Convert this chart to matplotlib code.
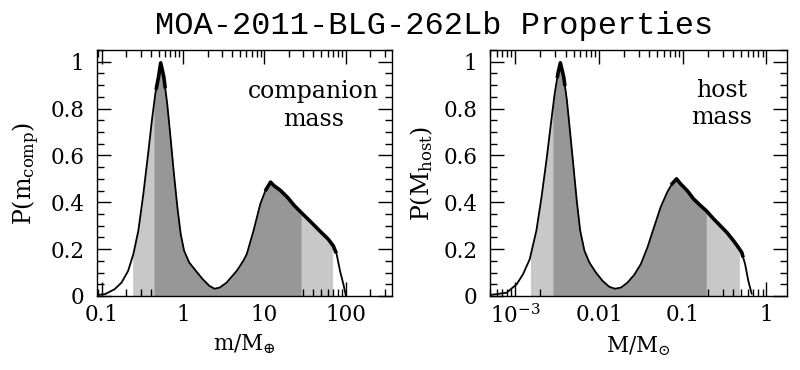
import matplotlib
matplotlib.use("Agg")
import matplotlib.pyplot as plt
import numpy as np
from matplotlib.ticker import FixedLocator, FixedFormatter, LogLocator, MultipleLocator, NullFormatter

plt.rcParams["font.family"] = ["DejaVu Serif"]
plt.rcParams["mathtext.fontset"] = "dejavuserif"

LIGHT = "#c8c8c8"; DARK = "#979797"

# companion mass (Earth masses) vs probability
m_comp = [0.087, 0.11, 0.144, 0.175, 0.211, 0.245, 0.282, 0.325, 0.376, 0.414, 0.456, 0.50, 0.531,
          0.579, 0.638, 0.70, 0.772, 0.851, 0.936, 1.03, 1.19, 1.44, 1.75, 2.11, 2.44, 2.82, 3.42,
          4.56, 5.5, 6.07, 7.35, 8.9, 10.3, 11.9, 13.1, 15.8, 19.2, 23.3, 28.2, 34.1, 41.4, 50.1,
          60.7, 70.2, 77.2, 85.0, 93.5, 100.0]
p_comp = [0.004, 0.008, 0.029, 0.057, 0.107, 0.179, 0.279, 0.436, 0.621, 0.75, 0.864, 0.936, 0.995,
          0.936, 0.821, 0.679, 0.521, 0.379, 0.264, 0.193, 0.143, 0.107, 0.071, 0.043, 0.031, 0.036,
          0.057, 0.107, 0.15, 0.179, 0.279, 0.393, 0.45, 0.486, 0.471, 0.45, 0.421, 0.386, 0.357,
          0.329, 0.30, 0.271, 0.243, 0.214, 0.179, 0.107, 0.05, 0.004]
comp_dark = (0.439, 28.2)
comp_light = (0.24, 68.8)

# host mass (solar masses) vs probability
m_host = [5.2e-4, 7.9e-4, 1.04e-3, 1.24e-3, 1.49e-3, 1.79e-3, 2.06e-3, 2.36e-3, 2.70e-3, 2.96e-3,
          3.24e-3, 3.46e-3, 3.79e-3, 4.14e-3, 4.54e-3, 4.97e-3, 5.43e-3, 5.97e-3, 6.71e-3, 7.69e-3,
          9.2e-3, 0.0111, 0.0133, 0.0156, 0.0183, 0.0219, 0.0263, 0.0316, 0.0379, 0.0454, 0.0545,
          0.0653, 0.0748, 0.0843, 0.094, 0.113, 0.135, 0.163, 0.191, 0.234, 0.281, 0.337, 0.404,
          0.463, 0.507, 0.556, 0.608, 0.666]
p_host = [0.005, 0.014, 0.05, 0.093, 0.157, 0.279, 0.421, 0.579, 0.75, 0.864, 0.95, 0.995, 0.936,
          0.836, 0.693, 0.55, 0.407, 0.279, 0.193, 0.143, 0.10, 0.064, 0.039, 0.031, 0.036, 0.057,
          0.09, 0.136, 0.207, 0.293, 0.379, 0.443, 0.479, 0.50, 0.479, 0.45, 0.414, 0.386, 0.364,
          0.329, 0.30, 0.271, 0.236, 0.207, 0.186, 0.136, 0.064, 0.01]
host_dark = (2.82e-3, 0.191)
host_light = (1.52e-3, 0.475)

panels = [
    dict(x=m_comp, y=p_comp, dark=comp_dark, light=comp_light, xlim=(0.087, 370),
         ticks=[0.1, 1, 10, 100], ticklabels=["0.1", "1", "10", "100"],
         xlabel=r"m/M$_{\oplus}$", ylabel=r"P(m$_{\rm comp}$)", note="companion\nmass",
         notepos=(0.735, 0.775),
         noisy=[(0.47, 0.6), (10.5, 75)], rect=[0.121, 0.2, 0.369, 0.665]),
    dict(x=m_host, y=p_host, dark=host_dark, light=host_light, xlim=(5.0e-4, 1.75),
         ticks=[1e-3, 0.01, 0.1, 1], ticklabels=[r"$10^{-3}$", "0.01", "0.1", "1"],
         xlabel=r"M/M$_{\odot}$", ylabel=r"P(M$_{\rm host}$)", note="host\nmass",
         notepos=(0.78, 0.78),
         noisy=[(3.2e-3, 3.9e-3), (0.075, 0.52)], rect=[0.6125, 0.2, 0.371, 0.665]),
]


def band(x, y, lo, hi):
    lx = np.log10(x)
    inner = [v for v in x if lo < v < hi]
    xs = np.array([lo] + inner + [hi])
    ys = np.interp(np.log10(xs), lx, y)
    return xs, ys


fig = plt.figure(figsize=(8, 3.7), dpi=100)
for p in panels:
    ax = fig.add_axes(p["rect"])
    ax.set_xscale("log")
    xs, ys = band(p["x"], p["y"], *p["light"])
    ax.fill_between(xs, 0, ys, color=LIGHT, lw=0, zorder=1)
    xs, ys = band(p["x"], p["y"], *p["dark"])
    ax.fill_between(xs, 0, ys, color=DARK, lw=0, zorder=2)
    ax.plot(p["x"], p["y"], color="k", lw=1.3, zorder=3)
    for lo, hi in p["noisy"]:
        xs, ys = band(p["x"], p["y"], lo, hi)
        ax.plot(xs, ys, color="k", lw=2.6, zorder=3)
    ax.set_xlim(*p["xlim"]); ax.set_ylim(0, 1.05)
    ax.xaxis.set_major_locator(FixedLocator(p["ticks"]))
    ax.xaxis.set_major_formatter(FixedFormatter(p["ticklabels"]))
    ax.xaxis.set_minor_locator(LogLocator(base=10, subs=np.arange(2, 10), numticks=20))
    ax.xaxis.set_minor_formatter(NullFormatter())
    ax.yaxis.set_minor_locator(MultipleLocator(0.05))
    ax.set_yticks([0, 0.2, 0.4, 0.6, 0.8, 1.0])
    ax.set_yticklabels(["0", "0.2", "0.4", "0.6", "0.8", "1"])
    ax.tick_params(which="both", direction="in", top=True, right=True, labelsize=15.5, width=1.0)
    ax.tick_params(which="major", length=10)
    ax.tick_params(which="minor", length=5)
    ax.tick_params(axis="x", pad=6)
    ax.tick_params(axis="y", pad=9)
    for s in ax.spines.values():
        s.set_linewidth(1.0)
    ax.set_xlabel(p["xlabel"], fontsize=15.5, labelpad=5)
    ax.set_ylabel(p["ylabel"], fontsize=17, labelpad=6)
    ax.text(*p["notepos"], p["note"], transform=ax.transAxes, ha="center", va="center",
            fontsize=17, linespacing=1.25)

fig.text(0.5425, 0.93, "MOA-2011-BLG-262Lb Properties", ha="center", va="center",
         family="Liberation Mono", fontsize=23)
fig.savefig("out.png", dpi=100)
